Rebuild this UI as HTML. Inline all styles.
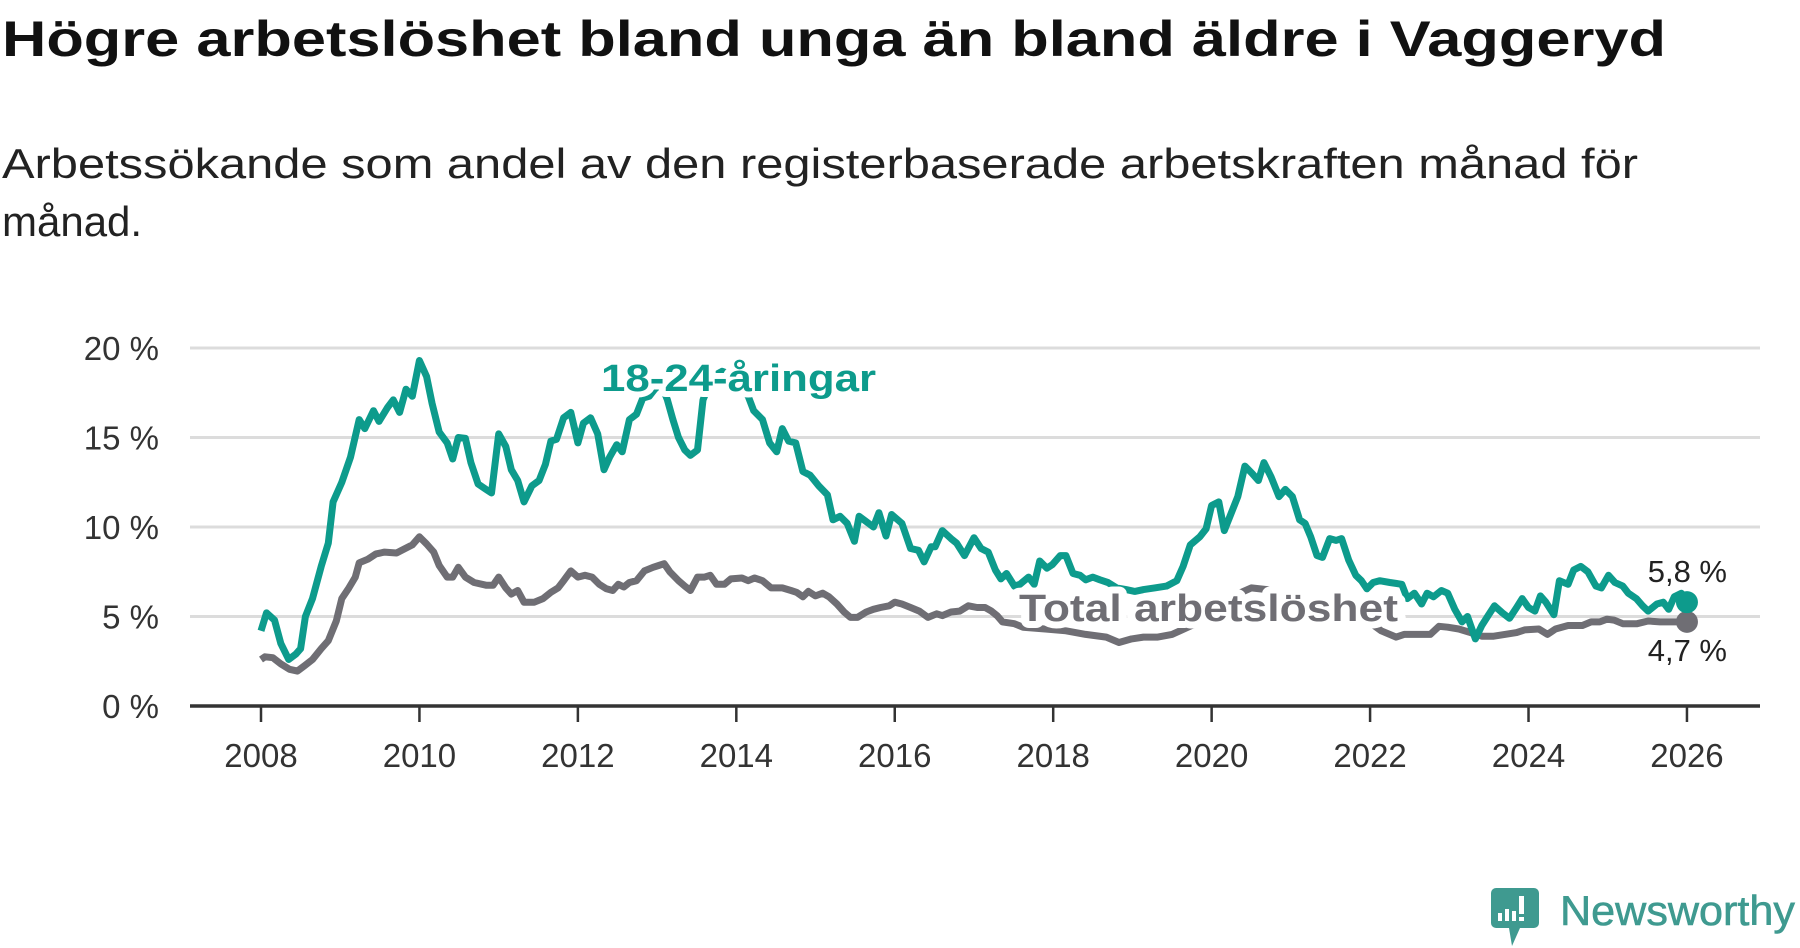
<!DOCTYPE html>
<html><head><meta charset="utf-8"><style>
html,body{margin:0;padding:0;background:#fff;}
svg{display:block;font-family:"Liberation Sans",sans-serif;}
</style></head><body>
<svg id="chart" width="1800" height="948" viewBox="0 0 1800 948">
<text x="2" y="56" font-size="50" font-weight="bold" fill="#111" textLength="1664" lengthAdjust="spacingAndGlyphs">Högre arbetslöshet bland unga än bland äldre i Vaggeryd</text>
<text font-size="42" fill="#222"><tspan x="2" y="178" textLength="1636" lengthAdjust="spacingAndGlyphs">Arbetssökande som andel av den registerbaserade arbetskraften månad för</tspan><tspan x="2" y="236">månad.</tspan></text>
<g id="grid"></g>
<g id="axes"></g>
<g id="series"></g>
<g id="labels"></g>
<g>
<path d="M1496 888 h38 a5 5 0 0 1 5 5 v30 a5 5 0 0 1 -5 5 h-14 l-8 18 l-3 -18 h-13 a5 5 0 0 1 -5 -5 v-30 a5 5 0 0 1 5 -5z" fill="#3f9a90"/>
<rect x="1498" y="913" width="4" height="8" fill="#fff"/><rect x="1505" y="909" width="4" height="12" fill="#fff"/><rect x="1512" y="911" width="4" height="10" fill="#fff"/><rect x="1519" y="896" width="5" height="18" fill="#fff"/><rect x="1519" y="917" width="5" height="4" fill="#fff"/>
<text x="1560" y="925" font-size="42" fill="#3f9a90" stroke="#3f9a90" stroke-width="0.6" textLength="235" lengthAdjust="spacingAndGlyphs">Newsworthy</text>
</g>
</svg>
<script>
const yTicks = [0, 5, 10, 15, 20];
const yTickLabels = ["0 %", "5 %", "10 %", "15 %", "20 %"];
const xTicks = [2008, 2010, 2012, 2014, 2016, 2018, 2020, 2022, 2024, 2026];
const youthYears = [2008.0,2008.07,2008.17,2008.25,2008.35,2008.44,2008.5,2008.56,2008.65,2008.76,2008.85,2008.91,2009.02,2009.13,2009.24,2009.31,2009.42,2009.49,2009.6,2009.67,2009.75,2009.83,2009.91,2010.0,2010.09,2010.16,2010.25,2010.35,2010.42,2010.49,2010.58,2010.65,2010.74,2010.84,2010.91,2011.0,2011.09,2011.16,2011.24,2011.32,2011.42,2011.51,2011.59,2011.66,2011.73,2011.82,2011.91,2012.0,2012.07,2012.16,2012.25,2012.33,2012.4,2012.49,2012.56,2012.65,2012.74,2012.82,2012.9,2012.97,2013.05,2013.13,2013.2,2013.27,2013.35,2013.42,2013.51,2013.58,2013.7,2013.82,2013.95,2014.08,2014.15,2014.22,2014.33,2014.42,2014.51,2014.58,2014.66,2014.75,2014.84,2014.93,2015.04,2015.15,2015.22,2015.31,2015.4,2015.49,2015.55,2015.64,2015.73,2015.8,2015.89,2015.96,2016.09,2016.2,2016.3,2016.37,2016.46,2016.51,2016.6,2016.71,2016.78,2016.88,2017.0,2017.09,2017.18,2017.27,2017.34,2017.41,2017.51,2017.58,2017.69,2017.76,2017.83,2017.92,2017.99,2018.09,2018.16,2018.25,2018.34,2018.41,2018.5,2018.59,2018.69,2018.8,2018.92,2019.03,2019.14,2019.28,2019.43,2019.56,2019.64,2019.73,2019.85,2019.93,2020.0,2020.09,2020.16,2020.25,2020.33,2020.42,2020.51,2020.59,2020.66,2020.75,2020.85,2020.93,2021.02,2021.11,2021.18,2021.25,2021.33,2021.4,2021.49,2021.57,2021.64,2021.73,2021.82,2021.89,2021.96,2022.04,2022.12,2022.25,2022.4,2022.47,2022.56,2022.65,2022.72,2022.8,2022.9,2022.98,2023.07,2023.16,2023.23,2023.33,2023.41,2023.49,2023.57,2023.67,2023.76,2023.85,2023.92,2024.0,2024.08,2024.15,2024.22,2024.32,2024.39,2024.5,2024.57,2024.66,2024.75,2024.85,2024.92,2025.01,2025.09,2025.19,2025.26,2025.36,2025.44,2025.51,2025.62,2025.7,2025.77,2025.84,2025.93,2026.0];
const youthValues = [4.2,5.2,4.8,3.5,2.6,2.9,3.2,5.0,6.0,7.8,9.1,11.4,12.5,13.9,16.0,15.5,16.5,15.9,16.7,17.1,16.4,17.7,17.3,19.3,18.4,16.9,15.3,14.7,13.8,15.0,14.95,13.6,12.4,12.1,11.9,15.2,14.5,13.2,12.6,11.4,12.3,12.6,13.5,14.8,14.9,16.1,16.4,14.7,15.8,16.1,15.2,13.2,13.9,14.6,14.2,16.0,16.3,17.2,17.3,17.7,18.0,17.1,16.0,15.0,14.3,14.0,14.3,17.1,18.4,18.7,18.5,17.8,17.3,16.5,16.0,14.7,14.2,15.5,14.8,14.7,13.1,12.9,12.3,11.8,10.4,10.6,10.2,9.2,10.6,10.3,10.0,10.8,9.5,10.7,10.2,8.8,8.7,8.05,8.9,8.9,9.8,9.35,9.1,8.4,9.4,8.8,8.6,7.6,7.1,7.4,6.7,6.8,7.2,6.8,8.1,7.7,7.9,8.4,8.4,7.4,7.3,7.05,7.2,7.05,6.9,6.6,6.5,6.4,6.5,6.6,6.7,7.0,7.8,9.0,9.45,9.9,11.2,11.4,9.8,10.8,11.7,13.4,13.0,12.6,13.6,12.8,11.7,12.1,11.7,10.4,10.2,9.45,8.4,8.3,9.35,9.25,9.35,8.15,7.3,7.0,6.55,6.9,7.0,6.9,6.8,6.0,6.3,5.7,6.3,6.1,6.45,6.3,5.4,4.7,5.0,3.75,4.5,5.05,5.6,5.2,4.9,5.5,6.0,5.5,5.3,6.15,5.8,5.1,7.0,6.8,7.6,7.8,7.5,6.7,6.6,7.3,6.9,6.7,6.3,6.0,5.6,5.3,5.7,5.8,5.4,6.1,6.3,5.8];
const totalYears = [2008.0,2008.05,2008.15,2008.25,2008.36,2008.46,2008.55,2008.65,2008.76,2008.85,2008.95,2009.02,2009.11,2009.19,2009.24,2009.35,2009.45,2009.56,2009.71,2009.82,2009.91,2010.0,2010.09,2010.18,2010.25,2010.35,2010.42,2010.49,2010.58,2010.69,2010.84,2010.93,2011.0,2011.09,2011.16,2011.24,2011.32,2011.45,2011.56,2011.66,2011.75,2011.82,2011.91,2012.0,2012.09,2012.18,2012.27,2012.36,2012.44,2012.51,2012.58,2012.65,2012.74,2012.84,2012.95,2013.02,2013.09,2013.16,2013.27,2013.35,2013.42,2013.51,2013.6,2013.67,2013.75,2013.85,2013.93,2014.07,2014.15,2014.23,2014.33,2014.44,2014.58,2014.69,2014.76,2014.84,2014.91,2015.0,2015.09,2015.17,2015.27,2015.36,2015.44,2015.53,2015.64,2015.73,2015.82,2015.93,2016.0,2016.09,2016.2,2016.31,2016.42,2016.53,2016.6,2016.71,2016.82,2016.93,2017.04,2017.14,2017.22,2017.29,2017.36,2017.51,2017.62,2017.9,2018.16,2018.41,2018.67,2018.83,2018.99,2019.14,2019.32,2019.5,2019.6,2019.7,2019.9,2020.1,2020.3,2020.5,2020.7,2020.9,2021.1,2021.3,2021.5,2021.7,2021.9,2022.05,2022.14,2022.33,2022.43,2022.65,2022.76,2022.87,2022.98,2023.12,2023.27,2023.41,2023.56,2023.7,2023.85,2023.95,2024.13,2024.24,2024.34,2024.5,2024.68,2024.79,2024.9,2024.99,2025.08,2025.19,2025.37,2025.51,2025.66,2025.84,2026.0];
const totalValues = [2.6,2.75,2.7,2.35,2.05,1.95,2.25,2.6,3.2,3.65,4.75,6.0,6.6,7.2,8.0,8.2,8.5,8.6,8.55,8.8,9.0,9.45,9.05,8.6,7.85,7.2,7.2,7.75,7.2,6.9,6.75,6.75,7.2,6.6,6.25,6.45,5.8,5.8,6.0,6.35,6.6,7.0,7.55,7.2,7.3,7.2,6.8,6.55,6.45,6.8,6.65,6.9,7.0,7.55,7.75,7.85,7.95,7.5,7.0,6.7,6.45,7.2,7.2,7.3,6.8,6.8,7.1,7.15,7.0,7.15,7.0,6.6,6.6,6.45,6.35,6.1,6.4,6.15,6.3,6.1,5.7,5.25,4.95,4.95,5.25,5.4,5.5,5.6,5.8,5.7,5.5,5.3,4.95,5.15,5.05,5.25,5.3,5.6,5.5,5.5,5.3,5.05,4.7,4.6,4.4,4.3,4.2,4.0,3.85,3.55,3.75,3.85,3.85,4.0,4.2,4.4,4.8,5.3,6.2,6.6,6.5,6.3,6.0,5.6,5.3,5.0,4.8,4.5,4.2,3.85,4.0,4.0,4.0,4.45,4.4,4.3,4.1,3.9,3.9,4.0,4.1,4.25,4.3,4.0,4.3,4.5,4.5,4.7,4.7,4.85,4.8,4.6,4.6,4.75,4.7,4.7,4.7];
const endLabels = ["5,8 %", "4,7 %"];

const NS = "http://www.w3.org/2000/svg";
const X0 = 261, XPY = 79.22, Y0 = 706, YPP = 17.9;
const xs = yr => X0 + (yr - 2008) * XPY;
const ys = v => Y0 - v * YPP;
function mk(tag, attrs, parent){ const e = document.createElementNS(NS, tag); for (const k in attrs) e.setAttribute(k, attrs[k]); parent.appendChild(e); return e; }
const grid = document.getElementById('grid'), axes = document.getElementById('axes'), series = document.getElementById('series'), labels = document.getElementById('labels');

yTicks.forEach((t, i) => {
  if (t !== 0) { const l = mk('line', {x1:190, x2:1760, y1:ys(t), y2:ys(t), stroke:'#dcdcdc', 'stroke-width':3}, grid);
    
     }
  const tx = mk('text', {x:159, y:ys(t)+12, 'text-anchor':'end', 'font-size':33, fill:'#333'}, axes);
  tx.textContent = yTickLabels[i];
  
  
});
const ax = mk('line', {x1:190, x2:1760, y1:Y0, y2:Y0, stroke:'#333', 'stroke-width':3.5}, axes);


xTicks.forEach(t => {
  const tk = mk('line', {x1:xs(t), x2:xs(t), y1:Y0, y2:Y0+16, stroke:'#333', 'stroke-width':2.5}, axes);
  
  
  const tx = mk('text', {x:xs(t), y:767, 'text-anchor':'middle', 'font-size':33, fill:'#333'}, axes);
  tx.textContent = t;
  
  
});
function pathOf(yrs, vals){ return yrs.map((y,i)=>(i?'L':'M')+xs(y).toFixed(1)+' '+ys(vals[i]).toFixed(1)).join(''); }
const tl = mk('path', {d:pathOf(totalYears,totalValues), fill:'none', stroke:'#6f6e74', 'stroke-width':7, 'stroke-linejoin':'round'}, series);


const yl = mk('path', {d:pathOf(youthYears,youthValues), fill:'none', stroke:'#0d9b8c', 'stroke-width':7, 'stroke-linejoin':'round'}, series);


const td = mk('circle', {cx:xs(totalYears[totalYears.length-1]), cy:ys(totalValues[totalValues.length-1]), r:11, fill:'#6f6e74'}, series);


const yd = mk('circle', {cx:xs(youthYears[youthYears.length-1]), cy:ys(youthValues[youthValues.length-1]), r:11, fill:'#0d9b8c'}, series);



const l1 = mk('text', {x:601, y:391, 'font-size':38, 'font-weight':'bold', fill:'#0d9b8c', stroke:'#fff', 'stroke-width':12, 'paint-order':'stroke', 'stroke-linejoin':'round', textLength:275, lengthAdjust:'spacingAndGlyphs'}, labels);
l1.textContent = '18-24-åringar';


const l2 = mk('text', {x:1019, y:621, 'font-size':38, 'font-weight':'bold', fill:'#6f6e74', stroke:'#fff', 'stroke-width':14, 'paint-order':'stroke', 'stroke-linejoin':'round', textLength:379, lengthAdjust:'spacingAndGlyphs'}, labels);
l2.textContent = 'Total arbetslöshet';


const e1 = mk('text', {x:1727, y:582, 'text-anchor':'end', 'font-size':31, fill:'#222', stroke:'#fff', 'stroke-width':6, 'paint-order':'stroke'}, labels);
e1.textContent = endLabels[0];


const e2 = mk('text', {x:1727, y:661, 'text-anchor':'end', 'font-size':31, fill:'#222', stroke:'#fff', 'stroke-width':6, 'paint-order':'stroke'}, labels);
e2.textContent = endLabels[1];


</script>
</body></html>
